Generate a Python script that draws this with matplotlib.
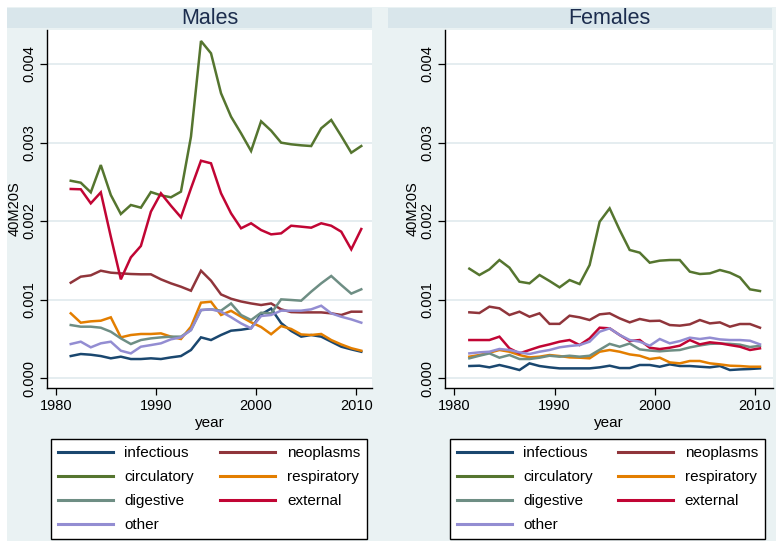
import matplotlib
matplotlib.use("Agg")
import matplotlib.pyplot as plt
import matplotlib.ticker as ticker
from matplotlib.patches import Rectangle
from matplotlib.lines import Line2D
import numpy as np

plt.rcParams["font.family"] = ["Liberation Sans", "DejaVu Sans"]

# ==========================================
# Data: 40M20S by cause, values in units of 0.001
# ==========================================
years = [1981.5, 1982.5, 1983.5, 1984.5, 1985.5, 1986.5, 1987.5, 1988.5, 1989.5, 1990.5,
         1991.5, 1992.5, 1993.5, 1994.5, 1995.5, 1996.5, 1997.5, 1998.5, 1999.5, 2000.5,
         2001.5, 2002.5, 2003.5, 2004.5, 2005.5, 2006.5, 2007.5, 2008.5, 2009.5, 2010.5]

causes = ["infectious", "neoplasms", "circulatory", "respiratory",
          "digestive", "external", "other"]
colors = ["#1a476f", "#90353b", "#55752f", "#e37e00",
          "#6e8e84", "#c10534", "#938dd2"]

m_infectious = [0.280, 0.306, 0.297, 0.280, 0.251, 0.272, 0.242, 0.242, 0.251, 0.242,
                0.263, 0.280, 0.357, 0.518, 0.484, 0.548, 0.603, 0.615, 0.635, 0.810,
                0.885, 0.700, 0.600, 0.527, 0.548, 0.527, 0.463, 0.399, 0.365, 0.335]
m_neoplasms = [1.214, 1.291, 1.308, 1.367, 1.342, 1.333, 1.325, 1.321, 1.321, 1.257,
               1.206, 1.163, 1.112, 1.367, 1.240, 1.065, 1.010, 0.975, 0.950, 0.930,
               0.950, 0.875, 0.840, 0.836, 0.836, 0.836, 0.824, 0.803, 0.845, 0.845]
m_circulatory = [2.513, 2.488, 2.365, 2.713, 2.331, 2.089, 2.204, 2.170, 2.369, 2.327,
                 2.302, 2.374, 3.074, 4.293, 4.136, 3.627, 3.329, 3.117, 2.892, 3.270,
                 3.151, 2.998, 2.977, 2.964, 2.955, 3.181, 3.287, 3.083, 2.870, 2.955]
m_respiratory = [0.824, 0.705, 0.722, 0.730, 0.773, 0.518, 0.548, 0.561, 0.561, 0.569,
                 0.527, 0.497, 0.654, 0.960, 0.972, 0.803, 0.856, 0.781, 0.710, 0.650,
                 0.558, 0.662, 0.625, 0.555, 0.548, 0.561, 0.484, 0.428, 0.380, 0.348]
m_digestive = [0.675, 0.654, 0.654, 0.641, 0.590, 0.505, 0.433, 0.484, 0.505, 0.518,
               0.527, 0.527, 0.611, 0.866, 0.875, 0.858, 0.950, 0.803, 0.739, 0.832,
               0.824, 1.002, 0.994, 0.985, 1.100, 1.206, 1.300, 1.185, 1.075, 1.130]
m_external = [2.408, 2.404, 2.225, 2.365, 1.800, 1.257, 1.537, 1.682, 2.119, 2.353,
              2.195, 2.047, 2.416, 2.768, 2.735, 2.353, 2.098, 1.907, 1.971, 1.885,
              1.830, 1.843, 1.940, 1.928, 1.915, 1.971, 1.940, 1.864, 1.639, 1.898]
m_other = [0.433, 0.463, 0.391, 0.442, 0.463, 0.348, 0.314, 0.399, 0.420, 0.442,
           0.493, 0.518, 0.611, 0.866, 0.875, 0.845, 0.775, 0.696, 0.633, 0.790,
           0.803, 0.858, 0.858, 0.858, 0.875, 0.921, 0.824, 0.781, 0.747, 0.705]

f_infectious = [0.153, 0.157, 0.136, 0.166, 0.136, 0.102, 0.187, 0.153, 0.136, 0.123,
                0.123, 0.123, 0.123, 0.136, 0.157, 0.127, 0.127, 0.166, 0.166, 0.144,
                0.174, 0.153, 0.153, 0.144, 0.136, 0.153, 0.102, 0.110, 0.115, 0.123]
f_neoplasms = [0.837, 0.828, 0.909, 0.888, 0.803, 0.845, 0.781, 0.824, 0.690, 0.690,
               0.794, 0.773, 0.739, 0.811, 0.824, 0.760, 0.709, 0.752, 0.726, 0.730,
               0.675, 0.667, 0.684, 0.739, 0.696, 0.709, 0.654, 0.688, 0.688, 0.641]
f_circulatory = [1.393, 1.312, 1.384, 1.503, 1.406, 1.227, 1.206, 1.312, 1.236, 1.155,
                 1.248, 1.197, 1.439, 1.991, 2.161, 1.885, 1.631, 1.597, 1.469, 1.495,
                 1.503, 1.503, 1.355, 1.325, 1.333, 1.376, 1.342, 1.282, 1.130, 1.108]
f_respiratory = [0.272, 0.293, 0.323, 0.357, 0.335, 0.293, 0.263, 0.272, 0.293, 0.280,
                 0.263, 0.259, 0.251, 0.335, 0.357, 0.335, 0.301, 0.284, 0.242, 0.259,
                 0.199, 0.187, 0.217, 0.217, 0.187, 0.174, 0.157, 0.153, 0.144, 0.144]
f_digestive = [0.251, 0.284, 0.314, 0.259, 0.293, 0.242, 0.242, 0.259, 0.284, 0.272,
               0.284, 0.272, 0.284, 0.360, 0.435, 0.399, 0.440, 0.365, 0.350, 0.340,
               0.350, 0.357, 0.390, 0.415, 0.435, 0.440, 0.435, 0.425, 0.395, 0.410]
f_external = [0.484, 0.484, 0.484, 0.527, 0.378, 0.314, 0.357, 0.399, 0.429, 0.463,
              0.484, 0.420, 0.505, 0.641, 0.633, 0.548, 0.471, 0.484, 0.386, 0.369,
              0.386, 0.412, 0.484, 0.429, 0.455, 0.442, 0.420, 0.399, 0.357, 0.378]
f_other = [0.314, 0.327, 0.335, 0.370, 0.357, 0.327, 0.306, 0.335, 0.357, 0.391,
           0.408, 0.420, 0.463, 0.590, 0.633, 0.548, 0.484, 0.463, 0.412, 0.497,
           0.442, 0.471, 0.514, 0.497, 0.514, 0.492, 0.484, 0.484, 0.475, 0.429]

males = [m_infectious, m_neoplasms, m_circulatory, m_respiratory,
         m_digestive, m_external, m_other]
females = [f_infectious, f_neoplasms, f_circulatory, f_respiratory,
           f_digestive, f_external, f_other]

# ==========================================
# Figure layout (pixel positions of a 779x548 canvas)
# ==========================================
W, H = 779, 548
fig = plt.figure(figsize=(W / 100, H / 100), dpi=100)
fig.patch.set_facecolor("white")


def box(x0, y0, x1, y1):
    return [x0 / W, 1 - y1 / H, (x1 - x0) / W, (y1 - y0) / H]


bg = box(7, 7, 776, 541)
fig.add_artist(Rectangle(bg[:2], bg[2], bg[3], transform=fig.transFigure,
                         facecolor="#eaf2f3", edgecolor="none", zorder=-10))

panels = [
    ("Males", males, box(47, 30, 372, 388), (7, 372), (1979.13, 2011.57), (51, 367)),
    ("Females", females, box(445, 30, 773, 388), (388, 772), (1979.07, 2011.8), (450, 765)),
]

for title, series, pos, band, xlim, lgx in panels:
    # title band
    b = box(band[0], 8, band[1], 28)
    fig.add_artist(Rectangle(b[:2], b[2], b[3], transform=fig.transFigure,
                             facecolor="#d9e6eb", edgecolor="none", zorder=-5))
    cx = (pos[0] + pos[2] / 2)
    fig.text(cx, 1 - 23.5 / H, title, ha="center", va="baseline",
             fontsize=15.5, color="#1c2d4e")

    ax = fig.add_axes(pos)
    ax.set_facecolor("white")
    for name, vals, col in zip(causes, series, colors):
        ax.plot(years, np.array(vals) / 1000, color=col, lw=1.8,
                solid_joinstyle="miter", label=name)

    ax.set_xlim(*xlim)
    ax.set_ylim(-0.000127, 0.004433)
    ax.set_xticks([1980, 1990, 2000, 2010])
    ax.set_yticks([0, 0.001, 0.002, 0.003, 0.004])
    ax.yaxis.set_major_formatter(ticker.FormatStrFormatter("%.3f"))
    ax.grid(axis="y", color="#e3ecef", lw=1.3)
    ax.set_axisbelow(True)

    for s in ["top", "right"]:
        ax.spines[s].set_visible(False)
    for s in ["left", "bottom"]:
        ax.spines[s].set_linewidth(1.0)
        ax.spines[s].set_color("black")

    ax.tick_params(axis="both", length=5, width=0.9, color="black",
                   labelsize=10.5, labelcolor="black")
    ax.tick_params(axis="y", pad=2.5)
    ax.tick_params(axis="x", pad=3)
    for lbl in ax.get_yticklabels():
        lbl.set_rotation(90)
        lbl.set_va("center")
        lbl.set_ha("right")

    ax.set_xlabel("year", fontsize=11)
    ax.xaxis.label.set_va("center")
    ax.xaxis.set_label_coords(0.5, (388 - 422.5) / 358)
    ax.set_ylabel("40M20S", fontsize=10.5)
    ax.yaxis.label.set_va("center")
    ax.yaxis.set_label_coords(-32 / (pos[2] * W), 0.5)

    # legend: column order so rows read left-to-right like the original
    order = [0, 2, 4, 6, 1, 3, 5]
    handles = [Line2D([], [], color=colors[i], lw=2.2) for i in order]
    labels = [causes[i] for i in order]
    lb = box(lgx[0], 439, lgx[1], 540)
    leg = ax.legend(handles, labels, ncol=2, loc="upper left",
                    bbox_to_anchor=lb, bbox_transform=fig.transFigure,
                    mode="expand", fontsize=11, handlelength=3.6,
                    handletextpad=0.75, columnspacing=1.6, labelspacing=0.66,
                    borderpad=0.45, borderaxespad=0, fancybox=False,
                    framealpha=1, edgecolor="black")
    leg.get_frame().set_linewidth(1.0)

fig.savefig("out.png", dpi=100, facecolor=fig.get_facecolor())
